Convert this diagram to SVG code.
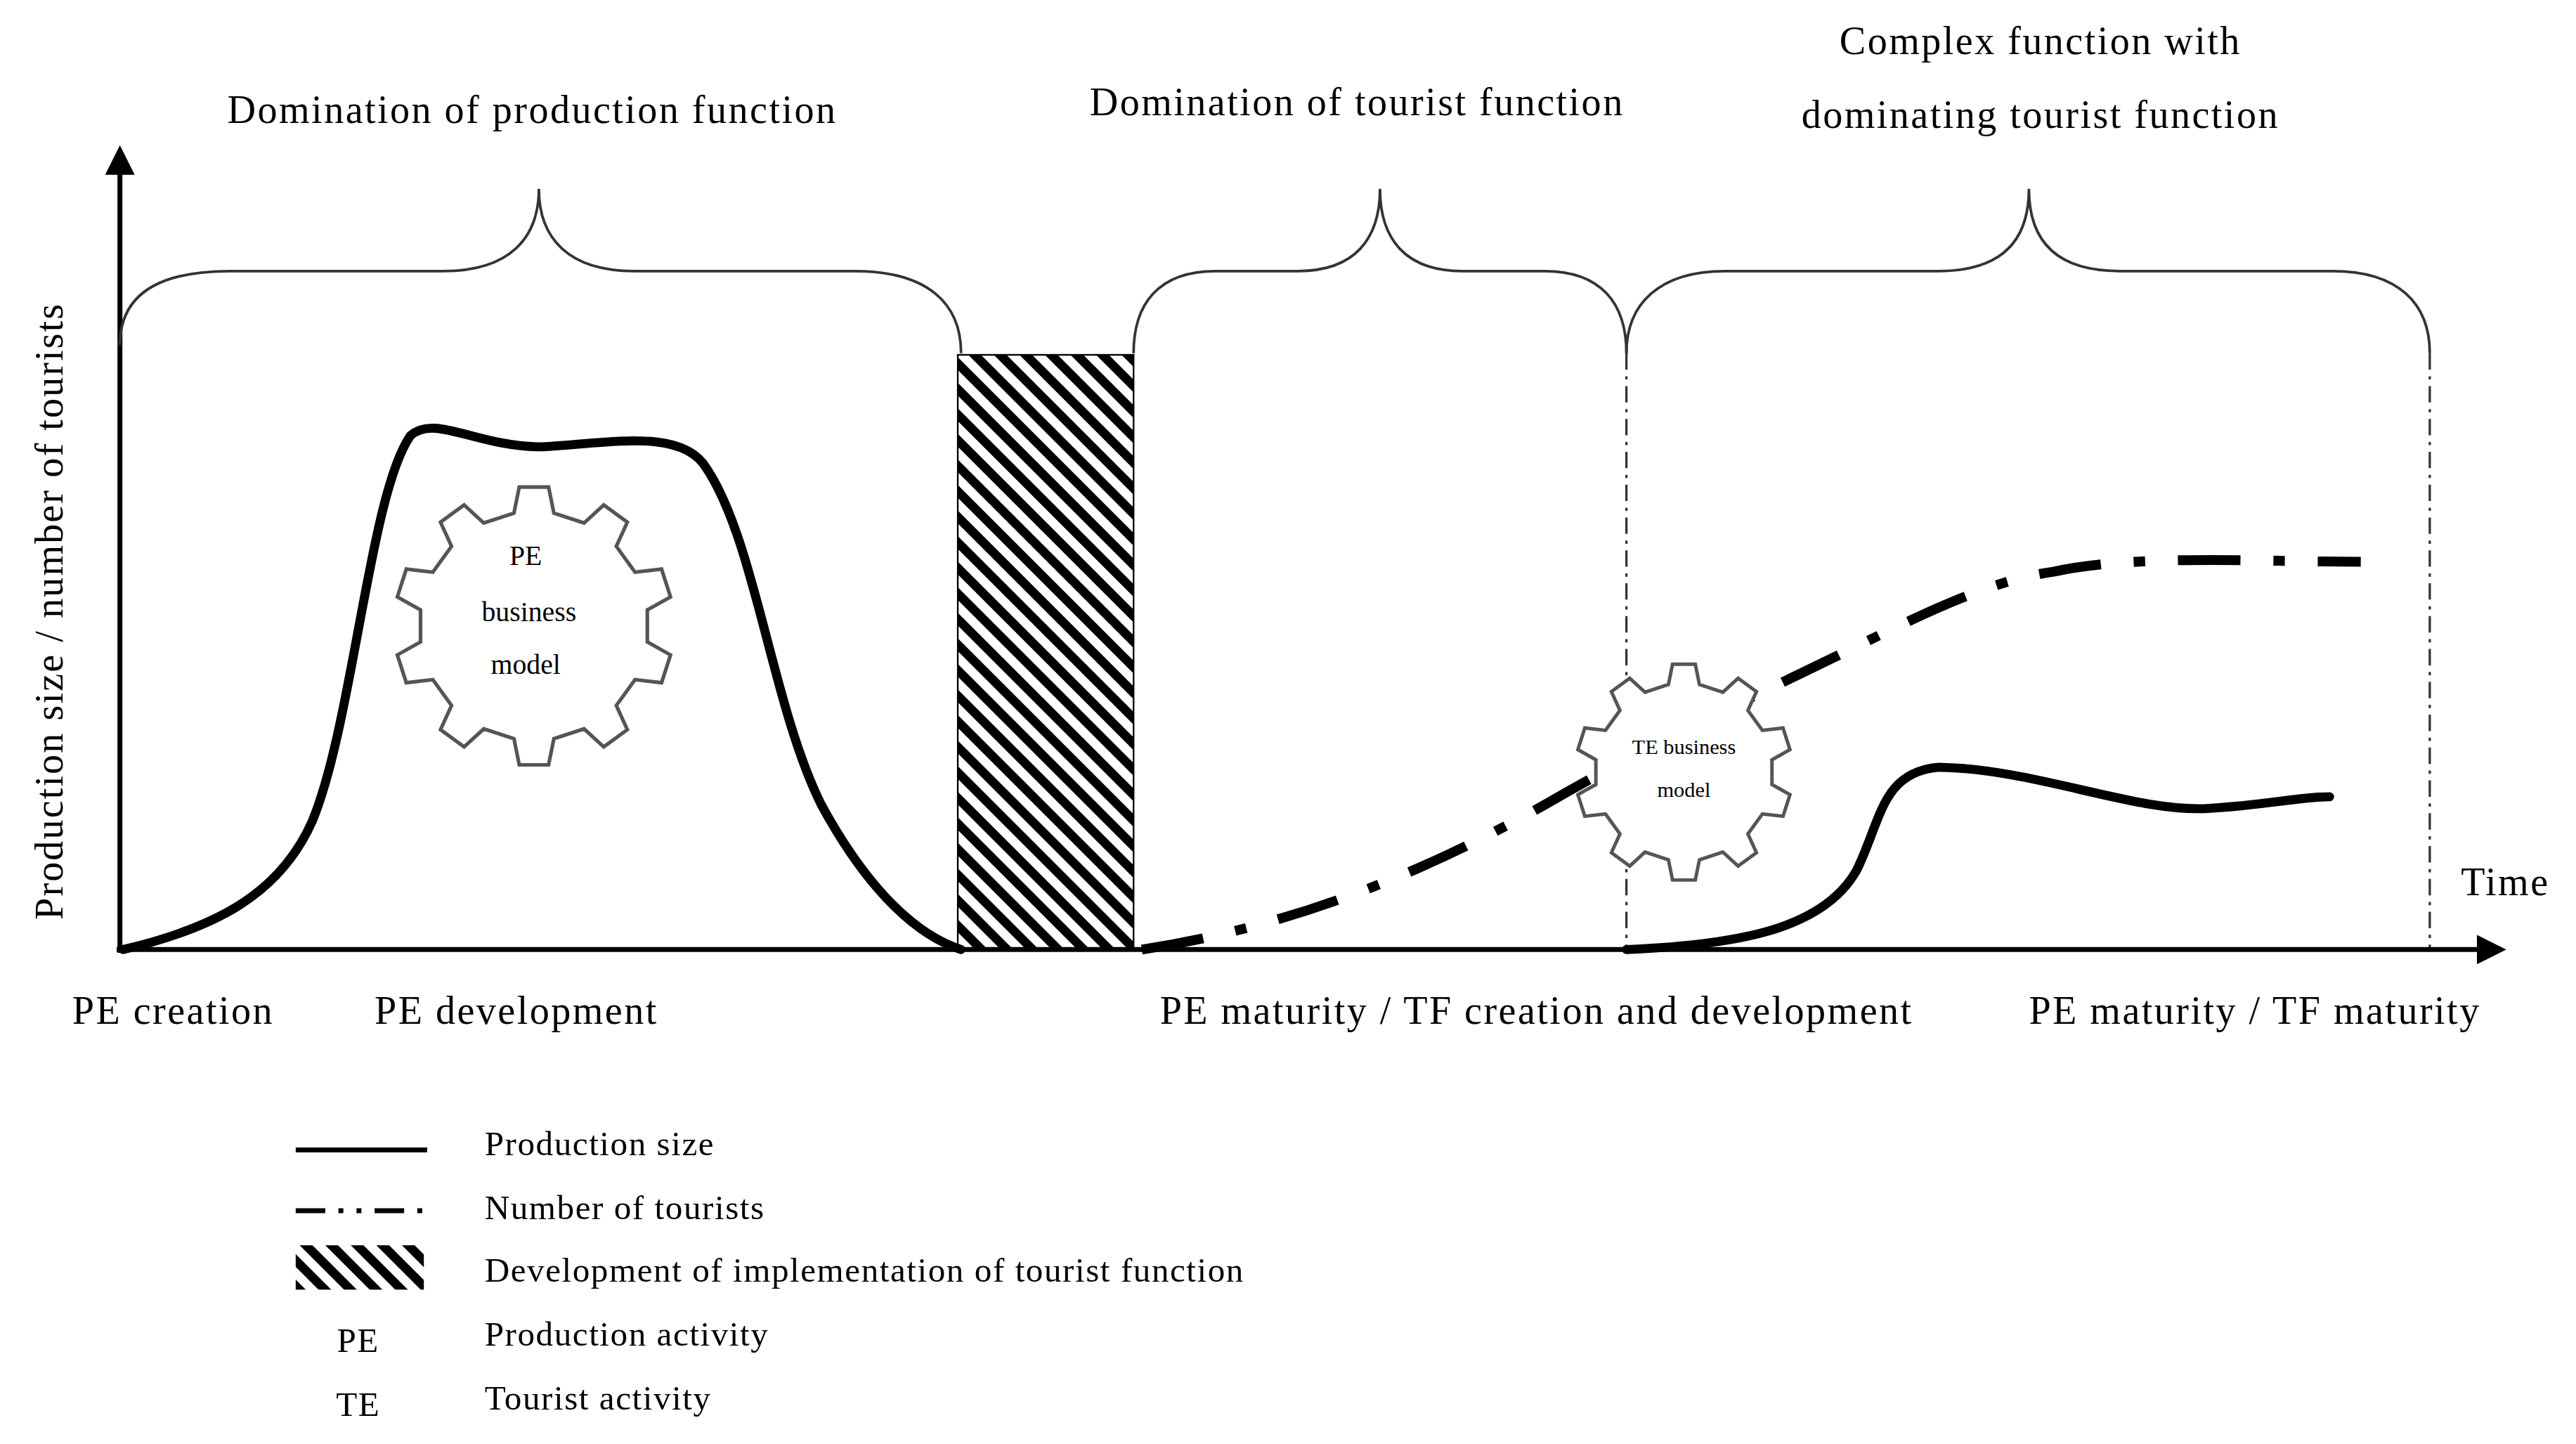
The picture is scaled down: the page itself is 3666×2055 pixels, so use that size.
<svg xmlns="http://www.w3.org/2000/svg" width="3666" height="2055" viewBox="0 0 3666 2055">
<defs>
<style>
text{font-family:"Liberation Serif","Times New Roman",serif;fill:#000}
.t{font-size:24px;letter-spacing:1.05px}
.ax{font-size:24px;letter-spacing:0.9px}
.lg{font-size:21px;letter-spacing:0.67px}
.brace{fill:none;stroke:#333;stroke-width:1.6}
.prod{fill:none;stroke:#000;stroke-width:5.5;stroke-linecap:round}
.tour{fill:none;stroke:#000;stroke-width:6;stroke-dasharray:38 20 7 20}
.gear{fill:#fff;stroke:#555}
.vd{stroke:#333;stroke-width:1.4;stroke-dasharray:10 4 2 4}
</style>
<marker id="ah" viewBox="0 0 10 10" refX="8" refY="5" markerWidth="6" markerHeight="6" orient="auto"><path d="M0,0 L10,5 L0,10 z" fill="#000"/></marker>
<pattern id="hatch" patternUnits="userSpaceOnUse" width="11" height="11" patternTransform="rotate(-45)"><rect width="11" height="11" fill="#fff"/><rect width="5.5" height="11" fill="#000"/></pattern>
<polygon id="gearshape" points="-14.3,-80.8 -10.5,-99.5 10.5,-99.5 14.3,-80.8 35.9,-73.7 50,-86.6 66.9,-74.3 59,-57 72.4,-38.5 91.4,-40.7 97.8,-20.8 81.2,-11.4 81.2,11.4 97.8,20.8 91.4,40.7 72.4,38.5 59,57 66.9,74.3 50,86.6 35.9,73.7 14.3,80.8 10.5,99.5 -10.5,99.5 -14.3,80.8 -35.9,73.7 -50,86.6 -66.9,74.3 -59,57 -72.4,38.5 -91.4,40.7 -97.8,20.8 -81.2,11.4 -81.2,-11.4 -97.8,-20.8 -91.4,-40.7 -72.4,-38.5 -59,-57 -66.9,-74.3 -50,-86.6 -35.9,-73.7"/>
</defs>
<rect width="3666" height="2055" fill="#fff"/>
<g transform="scale(2.338)">
<g id="connectors">
<rect id="hatchzone" x="583" y="216" width="107" height="362" fill="url(#hatch)" stroke="#000" stroke-width="1"/>
<line x1="990" y1="215" x2="990" y2="578" class="vd"/>
<line x1="1479" y1="215" x2="1479" y2="578" class="vd"/>
<path class="prod" d="M75,578 C130,565 170,545 190,500 C215,440 225,300 250,265 C265,252 290,272 330,272 C370,270 415,260 430,285 C460,330 470,430 500,490 C530,545 560,570 585,578"/>
<path class="prod" d="M990,578 C1060,575 1110,565 1130,530 C1145,500 1145,470 1180,467 C1240,468 1300,495 1345,492 C1380,490 1400,485 1418,485"/>
<path class="tour" d="M695,578 C780,565 860,535 940,490 C1000,455 1040,438 1075,420 C1150,385 1200,355 1250,348 C1300,337 1380,342 1437,342"/>
<line x1="73" y1="580" x2="73" y2="92" stroke="#000" stroke-width="3" marker-end="url(#ah)"/>
<line x1="71" y1="578" x2="1522" y2="578" stroke="#000" stroke-width="3" marker-end="url(#ah)"/>
<path class="brace" d="M73,210 C73,180 95,165 140,165 L270,165 C310,165 328,145 328,115 C328,145 346,165 386,165 L520,165 C565,165 585,185 585,215"/>
<path class="brace" d="M690,215 C690,185 705,165 740,165 L790,165 C825,165 840,145 840,115 C840,145 855,165 890,165 L940,165 C975,165 990,185 990,215"/>
<path class="brace" d="M990,215 C990,185 1010,165 1050,165 L1180,165 C1220,165 1235,145 1235,115 C1235,145 1250,165 1290,165 L1420,165 C1460,165 1479,185 1479,215"/>
</g>
<g id="pe-gear">
<use href="#gearshape" class="gear" transform="translate(325,381) scale(0.85)" stroke-width="2.6"/>
<text x="320" y="344" font-size="17" text-anchor="middle">PE</text>
<text x="322" y="378" font-size="17" text-anchor="middle">business</text>
<text x="320" y="410" font-size="17" text-anchor="middle">model</text>
</g>
<g id="te-gear">
<use href="#gearshape" class="gear" transform="translate(1025,470) scale(0.66)" stroke-width="3.2"/>
<text x="1025" y="459" font-size="13" text-anchor="middle">TE business</text>
<text x="1025" y="485" font-size="13" text-anchor="middle">model</text>
</g>
<g id="labels">
<text x="40" y="374" class="ax" text-anchor="middle" transform="rotate(-90 38 374)">Production size / number of tourists</text>
<text x="324" y="75" class="t" text-anchor="middle">Domination of production function</text>
<text x="826" y="70" class="t" text-anchor="middle">Domination of tourist function</text>
<text x="1242" y="33" class="t" text-anchor="middle">Complex function with</text>
<text x="1242" y="78" class="t" text-anchor="middle">dominating tourist function</text>
<text x="1498" y="545" class="t">Time</text>
<text x="44" y="623" class="t">PE creation</text>
<text x="228" y="623" class="t">PE development</text>
<text x="706" y="623" class="t">PE maturity / TF creation and development</text>
<text x="1235" y="623" class="t">PE maturity / TF maturity</text>
</g>
<g id="legend">
<line x1="180" y1="700" x2="260" y2="700" stroke="#000" stroke-width="3"/>
<line x1="180" y1="737" x2="260" y2="737" stroke="#000" stroke-width="3" stroke-dasharray="18 8 3 8 3 8"/>
<rect x="180" y="758" width="78" height="27" fill="url(#hatch)"/>
<text x="295" y="703" class="lg">Production size</text>
<text x="295" y="742" class="lg">Number of tourists</text>
<text x="295" y="780" class="lg">Development of implementation of tourist function</text>
<text x="218" y="823" class="lg" text-anchor="middle">PE</text>
<text x="295" y="819" class="lg">Production activity</text>
<text x="218" y="862" class="lg" text-anchor="middle">TE</text>
<text x="295" y="858" class="lg">Tourist activity</text>
</g>
</g>
</svg>
